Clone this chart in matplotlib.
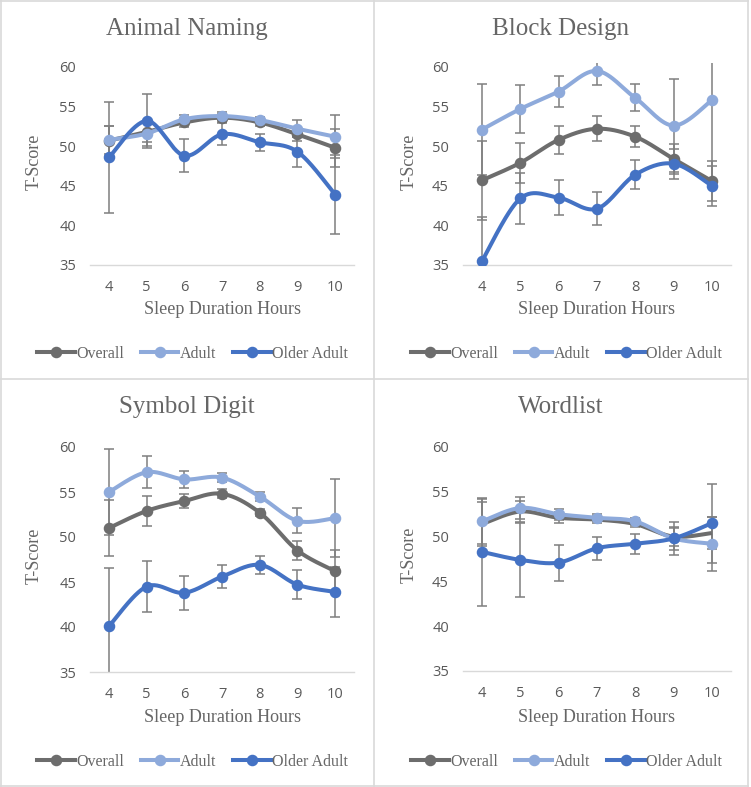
import numpy as np
import matplotlib
matplotlib.use("Agg")
import matplotlib.pyplot as plt
from matplotlib.lines import Line2D

hours = [4, 5, 6, 7, 8, 9, 10]
series_names = ["Overall", "Adult", "Older Adult"]
panel_titles = ["Animal Naming", "Block Design", "Symbol Digit", "Wordlist"]

# Animal Naming
an_overall = [50.7, 51.8, 53.0, 53.6, 53.0, 51.5, 49.8]
an_adult = [50.8, 51.6, 53.4, 53.8, 53.3, 52.2, 51.2]
an_older = [48.6, 53.2, 48.8, 51.5, 50.5, 49.3, 43.9]
an_overall_err = [1.9, 1.3, 0.6, 0.5, 0.5, 0.9, 2.4]
an_adult_err = [1.8, 1.6, 0.6, 0.5, 0.4, 1.1, 2.7]
an_older_err = [7.0, 3.4, 2.1, 1.4, 1.1, 1.9, 5.0]

# Block Design
bd_overall = [45.7, 47.9, 50.8, 52.2, 51.2, 48.4, 45.6]
bd_adult = [52.1, 54.7, 56.9, 59.5, 56.1, 52.6, 55.8]
bd_older = [35.5, 43.4, 43.5, 42.1, 46.4, 47.8, 45.0]
bd_overall_err = [5.0, 2.5, 1.8, 1.6, 1.3, 1.9, 2.5]
bd_adult_err = [5.7, 3.0, 2.0, 1.8, 1.7, 5.9, 10.0]
bd_older_err = [5.6, 3.2, 2.2, 2.1, 1.8, 1.9, 2.5]

# Symbol Digit
sd_overall = [51.0, 52.9, 54.0, 54.8, 52.7, 48.5, 46.2]
sd_adult = [55.0, 57.2, 56.4, 56.6, 54.5, 51.8, 52.1]
sd_older = [40.1, 44.5, 43.8, 45.6, 46.9, 44.7, 43.9]
sd_overall_err = [3.1, 1.7, 0.8, 0.5, 0.4, 1.1, 2.4]
sd_adult_err = [4.8, 1.8, 0.9, 0.5, 0.5, 1.4, 4.3]
sd_older_err = [6.5, 2.8, 1.9, 1.3, 1.0, 1.6, 2.8]

# Wordlist
wl_overall = [51.4, 52.8, 52.1, 51.9, 51.4, 50.0, 50.4]
wl_adult = [51.7, 53.2, 52.5, 52.1, 51.7, 49.8, 49.2]
wl_older = [48.3, 47.4, 47.1, 48.7, 49.2, 49.8, 51.5]
wl_overall_err = [2.5, 1.2, 0.6, 0.4, 0.3, 1.0, 1.8]
wl_adult_err = [2.5, 1.2, 0.6, 0.4, 0.4, 1.3, 3.0]
wl_older_err = [6.0, 4.1, 2.0, 1.3, 1.1, 1.8, 4.4]

panels = [
    (an_overall, an_adult, an_older, an_overall_err, an_adult_err, an_older_err),
    (bd_overall, bd_adult, bd_older, bd_overall_err, bd_adult_err, bd_older_err),
    (sd_overall, sd_adult, sd_older, sd_overall_err, sd_adult_err, sd_older_err),
    (wl_overall, wl_adult, wl_older, wl_overall_err, wl_adult_err, wl_older_err),
]
# whether each series shows point markers, per panel
show_markers = [
    (True, True, True),
    (True, True, True),
    (True, True, True),
    (False, True, True),
]

colors = ["#6d6d6d", "#8eaadb", "#4472c4"]
err_color = "#7f7f7f"
text_gray = "#595959"
title_gray = "#666666"
border = "#d9d9d9"

W, H = 751, 787
fig = plt.figure(figsize=(W / 100, H / 100), dpi=100)
fig.patch.set_facecolor("white")

serif = ["Liberation Serif", "DejaVu Serif"]
sans = ["Open Sans", "DejaVu Sans"]


def smooth(xs, ys, n=30):
    xs = np.asarray(xs, float)
    ys = np.asarray(ys, float)
    P = np.column_stack([xs, ys])
    out = [P[0]]
    for i in range(len(P) - 1):
        p0 = P[i - 1] if i > 0 else P[i]
        p1 = P[i]
        p2 = P[i + 1]
        p3 = P[i + 2] if i + 2 < len(P) else P[i + 1]
        c1 = p1 + (p2 - p0) / 6.0
        c2 = p2 - (p3 - p1) / 6.0
        t = np.linspace(0, 1, n)[1:, None]
        seg = ((1 - t) ** 3) * p1 + 3 * ((1 - t) ** 2) * t * c1 + 3 * (1 - t) * t ** 2 * c2 + t ** 3 * p2
        out.extend(seg)
    out = np.array(out)
    return out[:, 0], out[:, 1]


def px_rect(x0, x1, ytop, ybot):
    return [x0 / W, 1 - ybot / H, (x1 - x0) / W, (ybot - ytop) / H]


ymax = 60.45
# (x_left, x_right, y_of_60, y_of_35)
geo = [
    (90.2, 354.0, 67.0, 265.0),
    (462.8, 731.0, 67.0, 265.0),
    (90.2, 354.0, 447.0, 672.0),
    (462.8, 731.0, 447.0, 671.0),
]
panel_cx = [187, 561, 187, 561]
title_y = [29, 29, 407, 407]
xlabel_cx = [222, 597, 222, 597]
xlabel_y = [310, 310, 717, 717]
ylabel_x = [34, 409, 34, 409]
legend_x0 = [36, 410, 36, 410]
legend_y = [354, 354, 762, 762]

for k in range(4):
    x0, x1, y60, y35 = geo[k]
    per = (y35 - y60) / 25.0
    ytop = y60 - (ymax - 60) * per
    ax = fig.add_axes(px_rect(x0, x1, ytop, y35))
    ax.set_xlim(3.5, 10.5)
    ax.set_ylim(35, ymax)
    for s in ["top", "right", "left"]:
        ax.spines[s].set_visible(False)
    ax.spines["bottom"].set_color(border)
    ax.spines["bottom"].set_linewidth(1.0)
    ax.set_xticks(hours)
    ax.set_xticklabels([str(h) for h in hours])
    ax.set_yticks([35, 40, 45, 50, 55, 60])
    ax.tick_params(axis="both", length=0, colors=text_gray, labelsize=10.5)
    ax.tick_params(axis="x", pad=11)
    ax.tick_params(axis="y", pad=10)
    for lab in ax.get_xticklabels() + ax.get_yticklabels():
        lab.set_family(sans)
        lab.set_color(text_gray)

    vals = panels[k][:3]
    errs = panels[k][3:]
    for v, e in zip(vals, errs):
        ax.errorbar(hours, v, yerr=e, fmt="none", ecolor=err_color,
                    elinewidth=1.1, capsize=3.5, capthick=1.1, zorder=2)
    for i, (v, c) in enumerate(zip(vals, colors)):
        sx, sy = smooth(hours, v)
        ax.plot(sx, sy, color=c, lw=2.9, solid_capstyle="butt", zorder=3 + i)
        if show_markers[k][i]:
            ax.plot(hours, v, "o", color=c, ms=7.3, zorder=3 + i)

    fig.text(panel_cx[k] / W, 1 - title_y[k] / H, panel_titles[k], ha="center", va="center",
             fontsize=18, family=serif, color=title_gray)
    fig.text(xlabel_cx[k] / W, 1 - xlabel_y[k] / H, "Sleep Duration Hours", ha="center",
             va="center", fontsize=13, family=serif, color=title_gray)
    fig.text(ylabel_x[k] / W, 1 - ((y60 + y35) / 2 - 4) / H, "T-Score", ha="center",
             va="center", rotation=90, fontsize=13, family=serif, color=title_gray)

    handles = [Line2D([], [], color=c, lw=2.9, marker="o", ms=7.3) for c in colors]
    fig.legend(handles, series_names, loc="center left",
               bbox_to_anchor=((legend_x0[k] - 7) / W, 1 - legend_y[k] / H),
               ncol=3, frameon=False, handlelength=2.35, handletextpad=0.1,
               columnspacing=1.05, borderaxespad=0, borderpad=0.5,
               prop={"family": serif, "size": 11.5}, labelcolor=title_gray)

# panel borders
def hline(y, xa, xb):
    fig.add_artist(Line2D([xa / W, xb / W], [1 - y / H, 1 - y / H], color=border, lw=1.2,
                          transform=fig.transFigure))


def vline(x, ya, yb):
    fig.add_artist(Line2D([x / W, x / W], [1 - ya / H, 1 - yb / H], color=border, lw=1.2,
                          transform=fig.transFigure))


hline(0.6, 0, 748)
hline(379, 0, 748)
hline(786, 0, 748)
vline(0.6, 0, 787)
vline(373.5, 0, 787)
vline(747.5, 0, 787)

fig.savefig("out.png", dpi=100, facecolor="white")
